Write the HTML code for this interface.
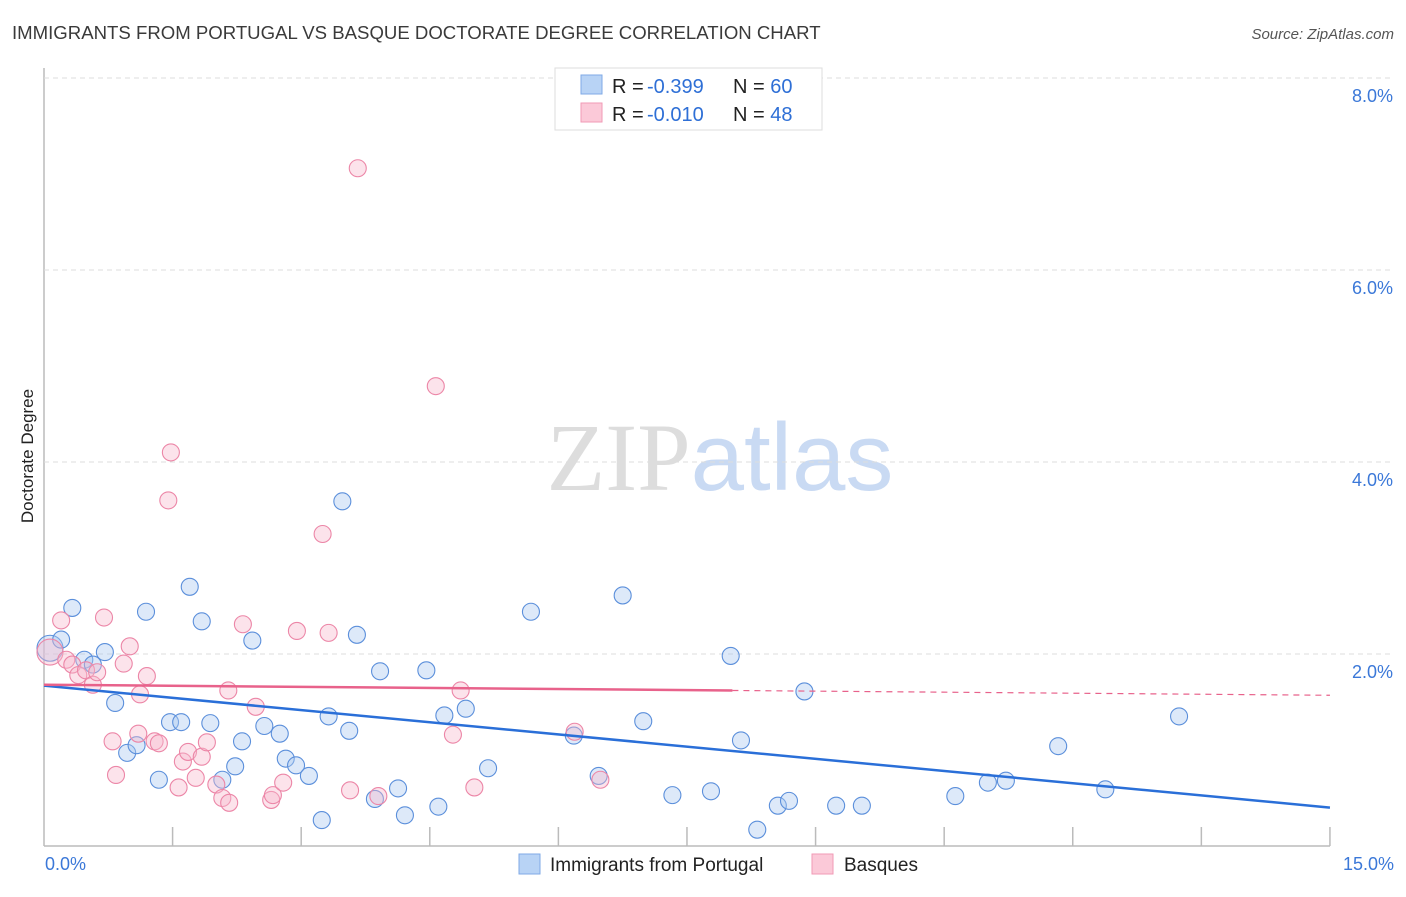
<!DOCTYPE html>
<html><head><meta charset="utf-8"><style>
body{margin:0;background:#fff;font-family:"Liberation Sans",sans-serif}
svg text{font-family:"Liberation Sans",sans-serif}
</style></head><body>
<svg id="chart" width="1406" height="892" xmlns="http://www.w3.org/2000/svg">
<text x="12" y="39" font-size="18.6" fill="#3a3a3a">IMMIGRANTS FROM PORTUGAL VS BASQUE DOCTORATE DEGREE CORRELATION CHART</text>
<text x="1394" y="39" font-size="15" fill="#555" text-anchor="end" font-style="italic">Source: ZipAtlas.com</text>
<text x="720" y="490" font-size="96" text-anchor="middle"><tspan fill="#ddd" font-family="Liberation Serif">ZIP</tspan><tspan fill="#c9daf3">atlas</tspan></text>
<g id="grid"></g>
<g id="marks"></g>
<text transform="translate(33,456) rotate(-90)" font-size="17" fill="#222" text-anchor="middle">Doctorate Degree</text>
<g>
<rect x="555" y="68" width="267" height="62" fill="#fff" stroke="#ddd"/>
<rect x="581" y="75" width="21" height="19" fill="#b8d3f5" stroke="#7fa9e6"/>
<rect x="581" y="103" width="21" height="19" fill="#fbc9d8" stroke="#f09ab6"/>
<text x="612" y="93" font-size="20" fill="#222">R =</text>
<text x="647" y="93" font-size="20" fill="#2e6fd6">-0.399</text>
<text x="733" y="93" font-size="20" fill="#222">N = <tspan fill="#2e6fd6">60</tspan></text>
<text x="612" y="121" font-size="20" fill="#222">R =</text>
<text x="647" y="121" font-size="20" fill="#2e6fd6">-0.010</text>
<text x="733" y="121" font-size="20" fill="#222">N = <tspan fill="#2e6fd6">48</tspan></text>
</g>
<g>
<rect x="519" y="854" width="21" height="20" fill="#b8d3f5" stroke="#7fa9e6"/>
<text x="550" y="871" font-size="19" fill="#222">Immigrants from Portugal</text>
<rect x="812" y="854" width="21" height="20" fill="#fbc9d8" stroke="#f09ab6"/>
<text x="844" y="871" font-size="19" fill="#222">Basques</text>
</g>
</svg>
<script>
const xTicks=[0,1.5,3,4.5,6,7.5,9,10.5,12,13.5,15];
const yTicks=[2,4,6,8];
const yTickLabels=["2.0%","4.0%","6.0%","8.0%"];
const blueX=[0.07,0.2,0.33,0.47,0.57,0.71,0.83,0.97,1.08,1.19,1.34,1.47,1.6,1.7,1.84,1.94,2.08,2.23,2.31,2.43,2.57,2.75,2.82,2.94,3.09,3.24,3.32,3.48,3.56,3.65,3.86,3.92,4.13,4.21,4.46,4.6,4.67,4.92,5.18,5.68,6.18,6.47,6.75,6.99,7.33,7.78,8.01,8.13,8.32,8.56,8.69,8.87,9.24,9.54,10.63,11.01,11.22,11.83,12.38,13.24];
const blueY=[2.06,2.15,2.48,1.94,1.89,2.02,1.49,0.97,1.05,2.44,0.69,1.29,1.29,2.7,2.34,1.28,0.69,0.83,1.09,2.14,1.25,1.17,0.91,0.84,0.73,0.27,1.35,3.59,1.2,2.2,0.49,1.82,0.6,0.32,1.83,0.41,1.36,1.43,0.81,2.44,1.15,0.73,2.61,1.3,0.53,0.57,1.98,1.1,0.17,0.42,0.47,1.61,0.42,0.42,0.52,0.66,0.68,1.04,0.59,1.35];
const pinkX=[0.07,0.2,0.26,0.33,0.4,0.49,0.57,0.62,0.7,0.8,0.84,0.93,1.0,1.12,1.1,1.2,1.29,1.34,1.45,1.48,1.57,1.62,1.68,1.77,1.84,1.9,2.01,2.08,2.16,2.15,2.32,2.47,2.65,2.67,2.79,2.95,3.25,3.32,3.57,3.66,3.9,4.57,4.77,4.86,5.02,6.19,6.49];
const pinkY=[2.02,2.35,1.94,1.89,1.78,1.83,1.68,1.81,2.38,1.09,0.74,1.9,2.08,1.58,1.17,1.77,1.09,1.07,3.6,4.1,0.61,0.88,0.98,0.71,0.93,1.08,0.64,0.5,0.45,1.62,2.31,1.45,0.48,0.53,0.66,2.24,3.25,2.22,0.58,7.06,0.52,4.79,1.16,1.62,0.61,1.19,0.69];
const blueTrend=[0,1.67,15,0.4];
const pinkTrend=[0,1.68,8.03,1.62,15,1.57];
const X=v=>44+v*85.73, Y=v=>846-v*96;
const NS="http://www.w3.org/2000/svg";
const grid=document.getElementById('grid'), marks=document.getElementById('marks');
function mk(p,tag,a){const e=document.createElementNS(NS,tag);for(const k in a)e.setAttribute(k,a[k]);p.appendChild(e);return e;}
let ax=mk(grid,'line',{x1:44,y1:68,x2:44,y2:846,stroke:'#bbb','stroke-width':1.5});

let bx=mk(grid,'line',{x1:44,y1:846,x2:1330,y2:846,stroke:'#bbb','stroke-width':1.5});

yTicks.forEach((t,i)=>{
 const g=mk(grid,'line',{x1:44,y1:Y(t),x2:1394,y2:Y(t),stroke:'#ddd','stroke-dasharray':'5,4'});
 
 const l=mk(grid,'text',{x:1393,y:Y(t)+24,'font-size':18,fill:'#3b78d8','text-anchor':'end'});l.textContent=yTickLabels[i];
 
});
xTicks.forEach((t,i)=>{ if(i===0)return;
 const g=mk(grid,'line',{x1:X(t),y1:827,x2:X(t),y2:846,stroke:'#bbb','stroke-width':1.5});
 
});
let l0=mk(grid,'text',{x:45,y:870,'font-size':18,fill:'#3b78d8'});l0.textContent='0.0%';

let l1=mk(grid,'text',{x:1394,y:870,'font-size':18,fill:'#3b78d8','text-anchor':'end'});l1.textContent='15.0%';

function dots(xs,ys,fill,stroke,name){xs.forEach((x,i)=>{
 const c=mk(marks,'circle',{cx:X(x),cy:Y(ys[i]),r:i===0?13:8.5,fill:fill,'fill-opacity':0.4,stroke:stroke,'stroke-width':1.1});
 });}
dots(blueX,blueY,'#a9c8f0','#5b8fdb','portugal-point');
dots(pinkX,pinkY,'#f7b9cc','#ec86a7','basque-point');
let bt=mk(marks,'line',{x1:X(blueTrend[0]),y1:Y(blueTrend[1]),x2:X(blueTrend[2]),y2:Y(blueTrend[3]),stroke:'#2a6fd8','stroke-width':2.5});

let pt=mk(marks,'line',{x1:X(pinkTrend[0]),y1:Y(pinkTrend[1]),x2:X(pinkTrend[2]),y2:Y(pinkTrend[3]),stroke:'#e8628b','stroke-width':2.5});

let pd=mk(marks,'line',{x1:X(pinkTrend[2]),y1:Y(pinkTrend[3]),x2:X(pinkTrend[4]),y2:Y(pinkTrend[5]),stroke:'#e8628b','stroke-width':1.2,'stroke-dasharray':'6,5'});

</script>
</body></html>
